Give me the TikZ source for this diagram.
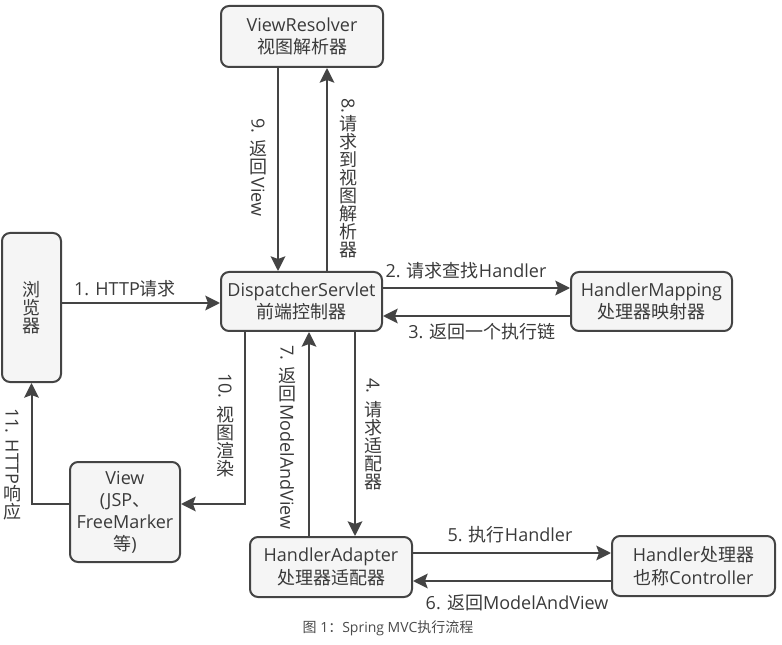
\documentclass[tikz,border=0pt]{standalone}
\usepackage{fontspec}
\setmainfont{Open Sans}
\newfontfamily\cjkf{Noto Sans CJK SC}
\newcommand{\zh}[1]{{\cjkf #1}}
\newcommand{\rl}[1]{\raisebox{0.8em}{\rotatebox{-90}{#1}}}
\usetikzlibrary{arrows.meta,calc}
\definecolor{lc}{HTML}{444444}
\definecolor{tc}{HTML}{3A3A3A}
\definecolor{bf}{HTML}{F5F5F5}
\definecolor{capc}{HTML}{4A4A4A}
\tikzset{
  box/.style={draw=lc, fill=bf, rounded corners=6pt, line width=1.5pt, text=tc, align=center,
    font=\fontsize{13.5}{17}\selectfont, inner sep=0pt},
  lab/.style={text=tc, font=\fontsize{13.5}{16}\selectfont, inner sep=0pt},
  vlab/.style={text=tc, font=\fontsize{13.5}{13.5}\selectfont, inner sep=0pt, align=center, anchor=north},
  arr/.style={draw=lc, line width=1.5pt, -{Stealth[length=11pt, width=11pt, inset=2pt]}}
}
\begin{document}
\begin{tikzpicture}[x=0.75pt,y=-0.75pt]
\useasboundingbox (0,0) rectangle (782,645);

% boxes
\node[box, minimum width=121.5pt, minimum height=45.75pt] (VR) at (302,36.5) {ViewResolver\\\zh{视图解析器}};
\node[box, minimum width=44.25pt, minimum height=111.75pt, font=\fontsize{13.5}{13.5}\selectfont] (BR) at (31.5,307.5) {\zh{浏}\\\zh{览}\\\zh{器}};
\node[box, minimum width=120.75pt, minimum height=44.25pt] (DS) at (301.5,301.5) {DispatcherServlet\\\zh{前端控制器}};
\node[box, minimum width=120.75pt, minimum height=44.25pt] (HM) at (651.5,301.5) {HandlerMapping\\\zh{处理器映射器}};
\node[box, minimum width=82.5pt, minimum height=75pt, font=\fontsize{13.5}{16.5}\selectfont] (View) at (125,512) {View\\(JSP\zh{、}\\FreeMarker\\\zh{等})};
\node[box, minimum width=121.5pt, minimum height=45pt] (HA) at (331,567) {HandlerAdapter\\\zh{处理器适配器}};
\node[box, minimum width=122.25pt, minimum height=45pt] (HC) at (693.5,566) {Handler\zh{处理器}\\\zh{也称}Controller};

% helper coordinates
\coordinate (y1) at (0,303);
\coordinate (y2) at (0,288);
\coordinate (y3) at (0,316);
\coordinate (y10) at (0,504);
\coordinate (y5) at (0,553);
\coordinate (y6) at (0,581);
\coordinate (x9) at (278,0);
\coordinate (x8) at (327,0);
\coordinate (x10) at (245,0);
\coordinate (x7) at (309,0);
\coordinate (x4) at (355,0);

% connectors
\draw[arr] (BR.east |- y1) -- (DS.west |- y1);
\draw[arr] (DS.east |- y2) -- (HM.west |- y2);
\draw[arr] (HM.west |- y3) -- (DS.east |- y3);
\draw[arr] (VR.south -| x9) -- (DS.north -| x9);
\draw[arr] (DS.north -| x8) -- (VR.south -| x8);
\draw[arr] (DS.south -| x10) |- (View.east |- y10);
\draw[arr] (HA.north -| x7) -- (DS.south -| x7);
\draw[arr] (DS.south -| x4) -- (HA.north -| x4);
\draw[arr] (View.west |- y10) -| (BR.south);
\draw[arr] (HA.east |- y5) -- (HC.west |- y5);
\draw[arr] (HC.west |- y6) -- (HA.east |- y6);

% horizontal labels
\node[lab] (l1) at (125,289) {1. HTTP\zh{请求}};
\node[lab] (l2) at (466,271) {2. \zh{请求查找}Handler};
\node[lab] (l3) at (482,332) {3. \zh{返回一个执行链}};
\node[lab] (l5) at (510,535) {5. \zh{执行}Handler};
\node[lab] (l6) at (517,603) {6. \zh{返回}ModelAndView};

% vertical labels
\node[vlab] (l9) at (258,118) {\rl{9. }\\\zh{返}\\\zh{回}\\\rl{View}};
\node[vlab] (l8) at (348,98) {\rl{8.}\\\zh{请}\\\zh{求}\\\zh{到}\\\zh{视}\\\zh{图}\\\zh{解}\\\zh{析}\\\zh{器}};
\node[vlab] (l10) at (225,373) {\rl{10. }\\\zh{视}\\\zh{图}\\\zh{渲}\\\zh{染}};
\node[vlab] (l7) at (287,345) {\rl{7. }\\\zh{返}\\\zh{回}\\\rl{ModelAndView}};
\node[vlab] (l4) at (373,378) {\rl{4. }\\\zh{请}\\\zh{求}\\\zh{适}\\\zh{配}\\\zh{器}};
\node[vlab] (l11) at (12,408) {\rl{11. HTTP}\\\zh{响}\\\zh{应}};

% caption
\node[text=capc, font=\fontsize{10.5}{12}\selectfont, inner sep=0pt] (cap) at (388,628) {\zh{图} 1\zh{：}Spring MVC\zh{执行流程}};
\end{tikzpicture}
\end{document}
